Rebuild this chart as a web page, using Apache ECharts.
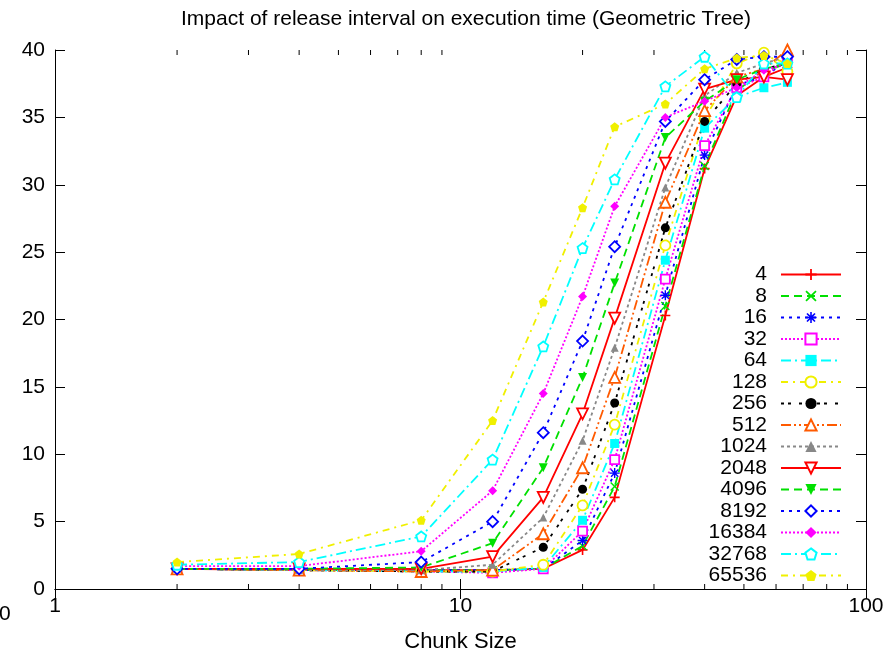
<!DOCTYPE html>
<html>
<head>
<meta charset="utf-8">
<script src="https://cdn.jsdelivr.net/npm/echarts@6/dist/echarts.min.js"></script>
<style>
  html, body { margin: 0; padding: 0; background: #fff; }
  #chart { width: 894px; height: 652px; }
</style>
</head>
<body>
<div id="chart"></div>
<script>
// chunk sizes on x, execution time on y, one list per release interval
var chunkSizes = [2, 4, 8, 12, 16, 20, 24, 32, 40, 48, 56, 64];
var intervals = ['4', '8', '16', '32', '64', '128', '256', '512', '1024', '2048', '4096', '8192', '16384', '32768', '65536'];

var t4     = [1.5, 1.4, 1.4, 1.4, 1.5, 2.9, 6.8, 20.3, 31.2, 36.6, 38.0, 38.7];
var t8     = [1.5, 1.4, 1.4, 1.4, 1.5, 3.2, 7.6, 21.0, 31.4, 37.0, 38.4, 39.0];
var t16    = [1.5, 1.4, 1.4, 1.4, 1.5, 3.6, 8.6, 21.8, 32.2, 37.4, 38.0, 39.2];
var t32    = [1.5, 1.4, 1.3, 1.2, 1.5, 4.3, 9.6, 23.0, 32.9, 37.2, 38.0, 39.4];
var t64    = [1.5, 1.4, 1.3, 1.3, 1.6, 5.1, 10.8, 24.4, 34.2, 36.5, 37.2, 37.6];
var t128   = [1.5, 1.4, 1.3, 1.3, 1.8, 6.2, 12.2, 25.5, 34.9, 39.0, 39.8, 38.4];
var t256   = [1.5, 1.4, 1.3, 1.3, 3.1, 7.4, 13.8, 26.8, 34.7, 37.5, 38.6, 39.0];
var t512   = [1.5, 1.4, 1.3, 1.4, 4.1, 9.0, 15.7, 28.7, 35.5, 38.0, 38.6, 40.0];
var t1024  = [1.5, 1.4, 1.4, 1.8, 5.3, 11.0, 17.9, 29.8, 36.6, 38.3, 39.0, 39.5];
var t2048  = [1.5, 1.5, 1.5, 2.4, 6.8, 13.0, 20.1, 31.6, 37.1, 37.8, 38.0, 37.8];
var t4096  = [1.5, 1.5, 1.6, 3.4, 9.0, 15.7, 22.7, 33.5, 36.2, 37.8, 38.6, 39.0];
var t8192  = [1.5, 1.5, 2.0, 5.0, 11.6, 18.4, 25.4, 34.7, 37.8, 39.3, 39.5, 39.5];
var t16384 = [1.7, 1.7, 2.8, 7.3, 14.5, 21.7, 28.4, 35.0, 36.2, 37.2, 38.5, 39.0];
var t32768 = [1.8, 2.0, 3.9, 9.6, 18.0, 25.3, 30.4, 37.3, 39.5, 36.5, 39.0, 39.0];
var t65536 = [2.0, 2.6, 5.1, 12.5, 21.3, 28.3, 34.3, 36.0, 38.6, 39.4, 39.6, 39.0];

var yTicks = [0, 5, 10, 15, 20, 25, 30, 35, 40];
var xMinorTicks = [2, 3, 4, 5, 6, 7, 8, 9, 20, 30, 40, 50, 60, 70, 80, 90];

var allTimes = [t4, t8, t16, t32, t64, t128, t256, t512, t1024, t2048, t4096, t8192, t16384, t32768, t65536];

// gnuplot-like point shapes
var PLUS = 'path://M4.2,0H5.8V4.2H10V5.8H5.8V10H4.2V5.8H0V4.2H4.2Z';
var CROSS = 'path://M1.1,0L5,3.9L8.9,0L10,1.1L6.1,5L10,8.9L8.9,10L5,6.1L1.1,10L0,8.9L3.9,5L0,1.1Z';
var STAR = 'path://M4.3,0H5.7V3.3L8.1,0.9L9.1,1.9L6.7,4.3H10V5.7H6.7L9.1,8.1L8.1,9.1L5.7,6.7V10H4.3V6.7L1.9,9.1L0.9,8.1L3.3,5.7H0V4.3H3.3L0.9,1.9L1.9,0.9L4.3,3.3Z';
var DOWNTRI = 'path://M0,0L10,0L5,9Z';
var PENTA = 'path://M5,0L10,3.8L8.1,10L1.9,10L0,3.8Z';

var styles = [
  {c: '#ff0000', dash: 'solid',              sym: PLUS,          open: false, size: 10},
  {c: '#00e000', dash: [8, 5],               sym: CROSS,         open: false, size: 9},
  {c: '#0000ff', dash: [3, 5],               sym: STAR,          open: false, size: 10},
  {c: '#ff00ff', dash: [2, 2],               sym: 'rect',        open: true,  size: 9},
  {c: '#00ffff', dash: [10, 4, 2, 4],        sym: 'rect',        open: false, size: 9},
  {c: '#f0f000', dash: [7, 5, 2, 5],         sym: 'circle',      open: true,  size: 10},
  {c: '#000000', dash: [3, 4, 3, 8],         sym: 'circle',      open: false, size: 9},
  {c: '#ff5a00', dash: [10, 3, 2, 3, 2, 3],  sym: 'triangle',    open: true,  size: 11},
  {c: '#888888', dash: [3, 3],               sym: 'triangle',    open: false, size: 8},
  {c: '#ff0000', dash: 'solid',              sym: DOWNTRI,       open: true,  size: 11},
  {c: '#00e000', dash: [8, 5],               sym: DOWNTRI,       open: false, size: 9},
  {c: '#0000ff', dash: [3, 5],               sym: 'diamond',     open: true,  size: 11},
  {c: '#ff00ff', dash: [2, 2],               sym: 'diamond',     open: false, size: 9},
  {c: '#00ffff', dash: [10, 4, 2, 4],        sym: PENTA,         open: true,  size: 10},
  {c: '#f0f000', dash: [7, 5, 2, 5],         sym: PENTA,         open: false, size: 9}
];

var series = [];
for (var i = 0; i < intervals.length; i++) {
  var s = styles[i];
  var pts = [];
  for (var j = 0; j < chunkSizes.length; j++) {
    pts.push([chunkSizes[j], allTimes[i][j]]);
  }
  series.push({
    name: intervals[i],
    type: 'line',
    data: pts,
    symbol: s.sym,
    symbolSize: s.size,
    showAllSymbol: true,
    animation: false,
    lineStyle: {color: s.c, width: 1.8, type: s.dash},
    itemStyle: s.open
      ? {color: '#ffffff', borderColor: s.c, borderWidth: 1.8}
      : {color: s.c, borderColor: s.c, borderWidth: 0},
    emphasis: {disabled: true}
  });
}

// minor ticks of the log x axis, placed through the axis scale
series.push({
  name: 'minor',
  type: 'custom',
  silent: true,
  animation: false,
  data: xMinorTicks.map(function (v) { return [v, 0]; }),
  renderItem: function (params, api) {
    var b = api.coord([api.value(0), 0]);
    var t = api.coord([api.value(0), 40]);
    return {
      type: 'group',
      children: [
        {type: 'line', shape: {x1: b[0], y1: b[1], x2: b[0], y2: b[1] - 5}, style: {stroke: '#000', lineWidth: 1}},
        {type: 'line', shape: {x1: t[0], y1: t[1], x2: t[0], y2: t[1] + 5}, style: {stroke: '#000', lineWidth: 1}}
      ]
    };
  }
});

var font = 'Liberation Sans, Arial, Helvetica, sans-serif';

var option = {
  backgroundColor: '#ffffff',
  animation: false,
  title: {
    text: 'Impact of release interval on execution time (Geometric Tree)',
    left: 461,
    top: 4,
    textAlign: 'center',
    textStyle: {fontFamily: font, fontSize: 21, fontWeight: 'normal', color: '#000'}
  },
  legend: {
    data: intervals,
    orient: 'vertical',
    align: 'right',
    right: 47,
    top: 259,
    itemWidth: 60,
    itemHeight: 14,
    itemGap: 0.5,
    selectedMode: false,
    textStyle: {fontFamily: font, fontSize: 21, color: '#000', padding: [0, 9, 0, 0]}
  },
  grid: {left: 55, right: 28, top: 50, bottom: 63, containLabel: false, outerBoundsMode: 'none'},
  xAxis: [{
    type: 'log',
    logBase: 10,
    min: 1,
    max: 100,
    name: 'Chunk Size',
    nameLocation: 'middle',
    nameGap: 42,
    nameTextStyle: {fontFamily: font, fontSize: 22, color: '#000'},
    axisLine: {lineStyle: {color: '#000', width: 1}},
    axisTick: {inside: true, length: 10, lineStyle: {color: '#000'}},
    axisLabel: {fontFamily: font, fontSize: 21, color: '#000', margin: 7},
    splitLine: {show: false}
  }, {
    type: 'log',
    logBase: 10,
    min: 1,
    max: 100,
    position: 'top',
    axisLine: {lineStyle: {color: '#000', width: 1}},
    axisTick: {inside: true, length: 10, lineStyle: {color: '#000'}},
    axisLabel: {show: false},
    splitLine: {show: false}
  }],
  yAxis: [{
    type: 'value',
    min: yTicks[0],
    max: yTicks[yTicks.length - 1],
    interval: 5,
    axisLine: {show: true, lineStyle: {color: '#000', width: 1}},
    axisTick: {show: true, inside: true, length: 10, lineStyle: {color: '#000'}},
    axisLabel: {fontFamily: font, fontSize: 21, color: '#000', margin: 10},
    splitLine: {show: false}
  }, {
    type: 'value',
    min: yTicks[0],
    max: yTicks[yTicks.length - 1],
    interval: 5,
    position: 'right',
    axisLine: {show: true, lineStyle: {color: '#000', width: 1}},
    axisTick: {show: true, inside: true, length: 10, lineStyle: {color: '#000'}},
    axisLabel: {show: false},
    splitLine: {show: false}
  }],
  graphic: [{
    type: 'text',
    left: -1,
    top: 604,
    style: {text: '0', font: '21px ' + font, fill: '#000'}
  }],
  series: series
};

echarts.init(document.getElementById('chart')).setOption(option);
</script>
</body>
</html>
